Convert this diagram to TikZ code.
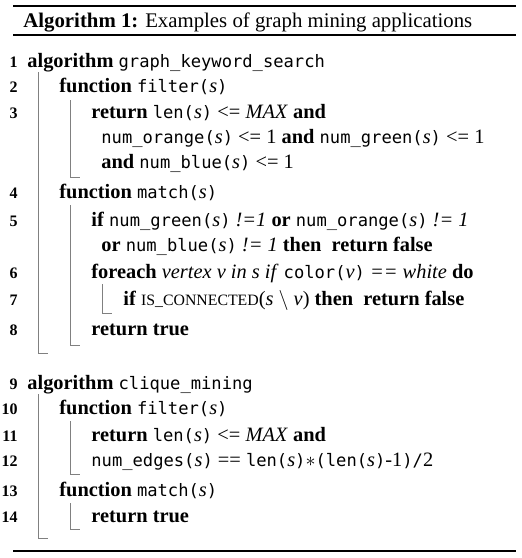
\documentclass[tikz,border=0pt]{standalone}
\usepackage{fontspec}
\setmainfont{Liberation Serif}
\setmonofont[Scale=0.84]{DejaVu Sans Mono}
\usetikzlibrary{calc}

\newcommand{\kw}[1]{\textbf{#1}}
\newcommand{\fn}[1]{\texttt{#1}}
\newcommand{\va}[1]{\textit{#1}}
\newcommand{\scname}[1]{{\fontsize{7.9}{9}\selectfont #1}}

\tikzset{
	code/.style={anchor=base west,inner sep=0pt,font=\fontsize{10.2}{12}\selectfont},
	lno/.style={anchor=base east,inner sep=0pt,font=\fontsize{8}{9}\selectfont\bfseries},
	bar/.style={draw=black!50,line width=0.45pt},
	rulethick/.style={line width=0.8pt},
	rulethin/.style={line width=0.55pt}
}

\begin{document}
\begin{tikzpicture}[x=0.5pt,y=-0.5pt]
		
		\useasboundingbox (0,0) rectangle (521,558);
		
		\draw[rulethick] (13,6) -- (516,6);
		\node (cap) [code,font=\fontsize{10.4}{12}\selectfont] at (23,27) {\kw{Algorithm 1:} Examples of graph mining applications};
		\draw[rulethin] (13,35) -- (516,35);
		
		\foreach \n/\y in {1/67,2/92,3/118,4/198,5/226,6/278,7/305,8/335,9/389,10/414,11/441,12/466,13/496,14/522} {
			\node (n\n) [lno] at (18,\y) {\n};
		}
		
		\node (t1) [code] at (27,67) {\kw{algorithm} \fn{graph\_keyword\_search}};
		\node (t2) [code] at (59,92) {\kw{function} \fn{filter(}\va{s}\fn{)}};
		\node (t3) [code] at (91,118) {\kw{return} \fn{len(}\va{s}\fn{)} <= \va{MAX} \kw{and}};
		\node (t3a) [code] at (101,143) {\fn{num\_orange(}\va{s}\fn{)} <= 1 \kw{and} \fn{num\_green(}\va{s}\fn{)} <= 1};
		\node (t3b) [code] at (101,168) {\kw{and} \fn{num\_blue(}\va{s}\fn{)} <= 1};
		\node (t4) [code] at (59,198) {\kw{function} \fn{match(}\va{s}\fn{)}};
		\node (t5) [code] at (91,226) {\kw{if} \fn{num\_green(}\va{s}\fn{)} \va{!=1} \kw{or} \fn{num\_orange(}\va{s}\fn{)} \va{!= 1}};
		\node (t5a) [code] at (101,251) {\kw{or} \fn{num\_blue(}\va{s}\fn{)} \va{!= 1} \kw{then}\ \ \kw{return false}};
		\node (t6) [code] at (91,278) {\kw{foreach} \va{vertex v in s if} \fn{color(}\va{v}\fn{)} \va{== white}\ \kw{do}};
		\node (t7) [code] at (123,305) {\kw{if} \scname{IS\_CONNECTED}(\va{s} $\setminus$ \va{v}) \kw{then}\ \ \kw{return false}};
		\node (t8) [code] at (91,335) {\kw{return true}};
		
		\node (t9) [code] at (27,389) {\kw{algorithm} \fn{clique\_mining}};
		\node (t10) [code] at (59,414) {\kw{function} \fn{filter(}\va{s}\fn{)}};
		\node (t11) [code] at (91,441) {\kw{return} \fn{len(}\va{s}\fn{)} <= \va{MAX} \kw{and}};
		\node (t12) [code] at (91,466) {\fn{num\_edges(}\va{s}\fn{)} == \fn{len(}\va{s}\fn{)}$*$\fn{(len(}\va{s}\fn{)}-1\fn{)/}2};
		\node (t13) [code] at (59,496) {\kw{function} \fn{match(}\va{s}\fn{)}};
		\node (t14) [code] at (91,522) {\kw{return true}};
		
		\draw[bar] (38,72) |- (48,353);
		\draw[bar] (70,100) |- (80,177);
		\draw[bar] (70,205) |- (80,345);
		\draw[bar] (102,284) |- (112,313);
		
		\draw[bar] (38,394) |- (48,538);
		\draw[bar] (70,421) |- (80,474);
		\draw[bar] (70,503) |- (80,529);
		
		\draw[rulethin] (13,551) -- (516,551);
		
	\end{tikzpicture}
\end{document}
